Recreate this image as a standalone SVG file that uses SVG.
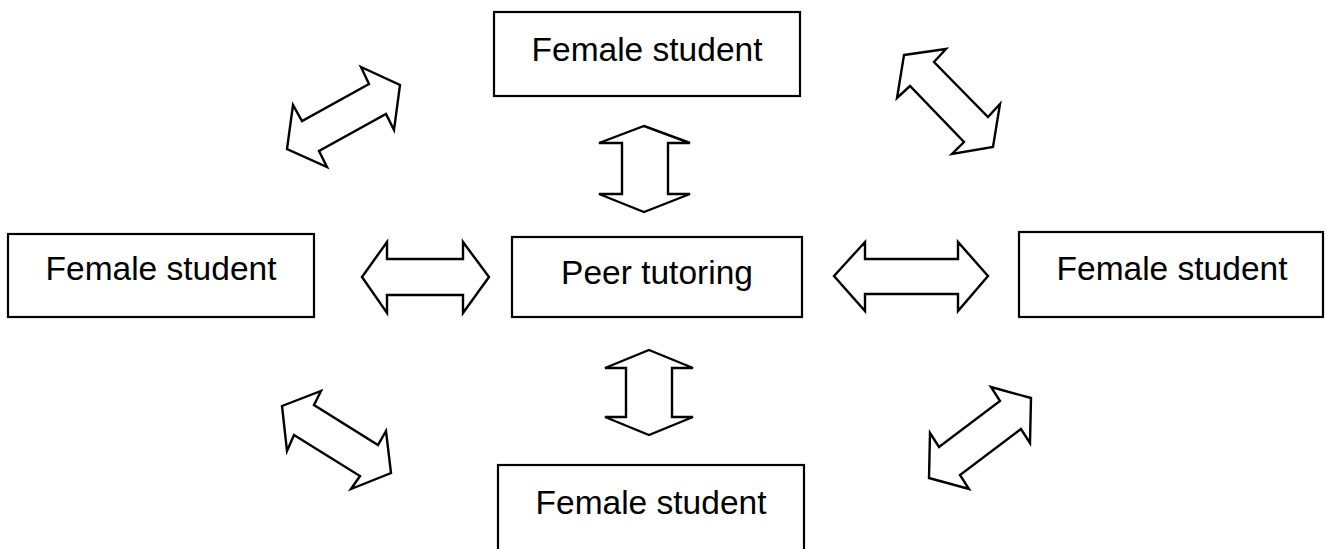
<svg xmlns="http://www.w3.org/2000/svg" width="1326" height="549" viewBox="0 0 1326 549">
<style>
.box{fill:#fff;stroke:#000;stroke-width:2.2}
.lbl{font-family:"Liberation Sans",Arial,sans-serif;font-size:33.5px;fill:#000;text-anchor:middle}
.arr{fill:#fff;stroke:#000;stroke-width:2.4;stroke-linejoin:miter}
</style>
<rect width="1326" height="549" fill="#fff"/>
<g id="connectors">
<polygon class="arr" points="361,67 400,85 394,130 386,114 319,151 327,167 287,149 293,105 302,121 369,84"/>
<polygon class="arr" points="904,55 946,49 934,62 988,117 1000,104 993,147 952,154 964,142 910,86 897,98"/>
<polygon class="arr" points="644,126 690,143 668,143 668,194 690,194 644,212 599,194 622,194 622,143 599,143"/>
<polygon class="arr" points="362,277 387,242 387,259 463,259 463,242 489,277 463,313 463,295 387,295 387,313"/>
<polygon class="arr" points="834,276 865,242 865,259 958,259 958,242 988,276 958,311 958,294 865,294 865,311"/>
<polygon class="arr" points="649,350 693,368 672,368 672,417 693,417 649,435 605,417 626,417 626,368 605,368"/>
<polygon class="arr" points="282,406 321,391 314,405 378,445 386,431 391,473 351,489 360,476 294,435 287,451"/>
<polygon class="arr" points="991,387 1031,398 1030,443 1021,429 960,475 969,489 929,478 930,433 939,447 1000,401"/>
</g>
<g id="top">
<rect class="box" x="494" y="12" width="306" height="84"/>
<text class="lbl" x="647" y="61">Female student</text>
</g>
<g id="left">
<rect class="box" x="8" y="234" width="306" height="83"/>
<text class="lbl" x="161" y="280">Female student</text>
</g>
<g id="center">
<rect class="box" x="512" y="237" width="290" height="80"/>
<text class="lbl" x="657" y="284">Peer tutoring</text>
</g>
<g id="right">
<rect class="box" x="1019" y="232" width="304" height="85"/>
<text class="lbl" x="1172" y="280">Female student</text>
</g>
<g id="bottom">
<rect class="box" x="498" y="465" width="306" height="90"/>
<text class="lbl" x="651" y="514">Female student</text>
</g>
</svg>
